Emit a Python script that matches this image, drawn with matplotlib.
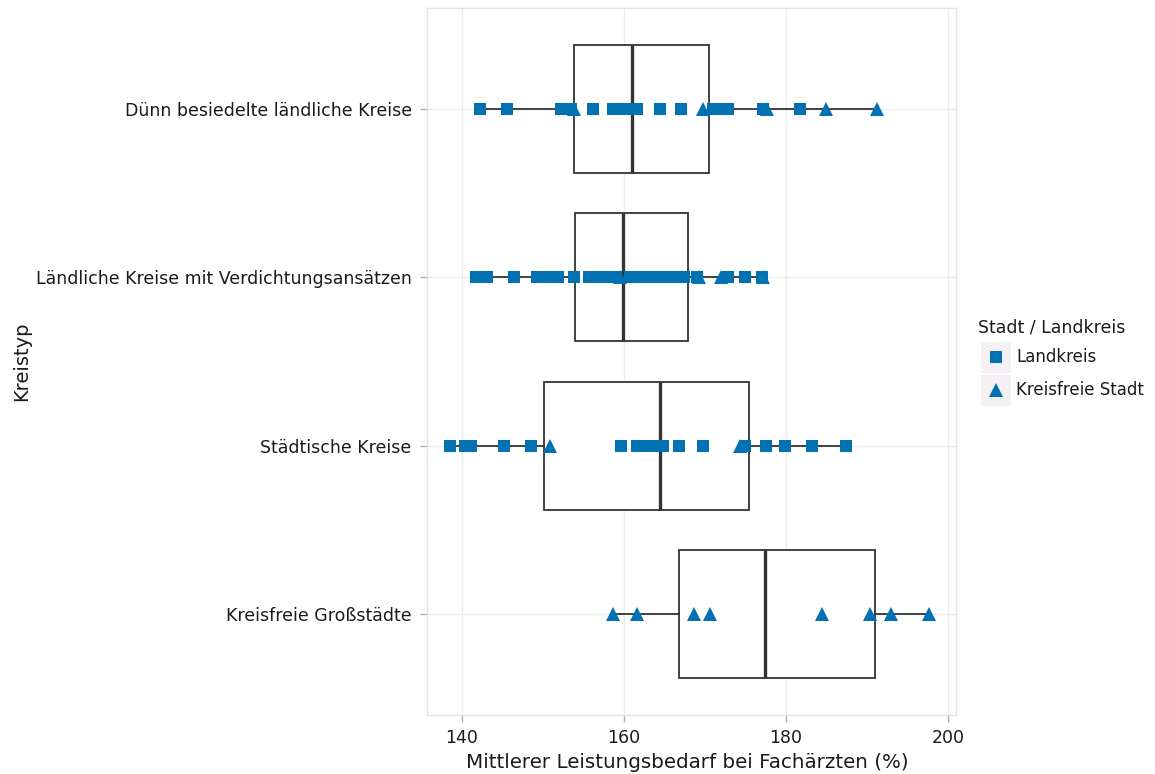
import numpy as np
import matplotlib
matplotlib.use('Agg')
import matplotlib.pyplot as plt
from matplotlib.patches import Rectangle
from matplotlib.lines import Line2D

plt.rcParams['font.family'] = ['DejaVu Sans']

# Kreistypen, von unten nach oben
kreistypen = ['Kreisfreie Großstädte', 'Städtische Kreise',
              'Ländliche Kreise mit Verdichtungsansätzen',
              'Dünn besiedelte ländliche Kreise']

# Leistungsbedarf (%) je Kreis, getrennt nach Landkreis / kreisfreie Stadt
landkreis = {
    'Dünn besiedelte ländliche Kreise': [142.2, 145.6, 152.2, 152.9, 153.5, 156.2, 158.6, 159.9,
                                         160.7, 161.6, 164.4, 167.0, 171.0, 172.0, 172.9, 177.2, 181.7],
    'Ländliche Kreise mit Verdichtungsansätzen': [141.7, 143.1, 146.5, 149.3, 150.6, 151.9, 153.8,
                                                  155.7, 157.0, 158.3, 159.0, 160.7, 162.0, 163.5,
                                                  164.7, 166.0, 167.4, 169.0, 172.8, 174.9, 177.0],
    'Städtische Kreise': [138.5, 140.4, 141.1, 145.2, 148.5, 159.6, 161.6, 162.4, 163.2, 164.0,
                          164.8, 166.8, 169.8, 174.9, 177.6, 179.9, 183.2, 187.4],
    'Kreisfreie Großstädte': [],
}
kreisfrei = {
    'Dünn besiedelte ländliche Kreise': [153.8, 169.8, 177.7, 185.0, 191.2],
    'Ländliche Kreise mit Verdichtungsansätzen': [159.5, 169.3, 172.0, 177.2],
    'Städtische Kreise': [150.9, 174.3],
    'Kreisfreie Großstädte': [158.6, 161.6, 168.6, 170.6, 184.4, 190.4, 193.0, 197.7],
}

# Boxplot-Kennwerte je Kreistyp (gleiche Reihenfolge wie kreistypen)
q1 = [166.8, 150.2, 154.0, 153.8]
median = [177.4, 164.4, 159.9, 161.0]
q3 = [191.0, 175.4, 167.9, 170.5]
whislo = [158.6, 138.5, 141.7, 142.2]
whishi = [197.7, 187.4, 177.2, 191.2]

blau = '#0072B2'
dunkel = '#333333'

fig = plt.figure(figsize=(11.55, 7.74), dpi=100)
ax = fig.add_axes([427/1155, 1-715/774, (956-427)/1155, (715-8)/774])

stats = []
for i, k in enumerate(kreistypen):
    stats.append(dict(med=median[i], q1=q1[i], q3=q3[i],
                      whislo=whislo[i], whishi=whishi[i], fliers=[], label=k))
pos = np.arange(1, len(kreistypen) + 1)
ax.bxp(stats, positions=pos, widths=0.76, orientation='horizontal',
       showcaps=False, showfliers=False, patch_artist=True,
       boxprops=dict(facecolor='white', edgecolor=dunkel, linewidth=1.3),
       whiskerprops=dict(color=dunkel, linewidth=1.3),
       medianprops=dict(color=dunkel, linewidth=2.4),
       zorder=2)

for i, k in enumerate(kreistypen):
    xs = landkreis[k]
    ax.plot(xs, np.full(len(xs), pos[i]), 's', color=blau, ms=8.5, mew=0, zorder=3)
    xs = kreisfrei[k]
    ax.plot(xs, np.full(len(xs), pos[i]), '^', color=blau, ms=9.5, mew=0, zorder=3)

ax.set_xlim(135.7, 201.0)
ax.set_ylim(0.4, 4.6)
ax.set_xticks([140, 160, 180, 200])
ax.set_yticks(pos)
ax.set_yticklabels(kreistypen)
ax.grid(True, color='#EBEBEB', linewidth=1.0, zorder=0)
ax.set_axisbelow(True)
for s in ax.spines.values():
    s.set_color('#E3E3E3')
    s.set_linewidth(1.0)
ax.tick_params(axis='both', colors='#B0B0B0', length=5, width=1.0,
               labelcolor='#1A1A1A', labelsize=12.5)
ax.tick_params(axis='x', pad=5)
ax.tick_params(axis='y', pad=6)
ax.set_xlabel('Mittlerer Leistungsbedarf bei Fachärzten (%)', fontsize=14.3,
              color='#1A1A1A')
ax.xaxis.set_label_coords(0.492, -0.054)
ax.set_ylabel('Kreistyp', fontsize=14, color='#1A1A1A')
ax.yaxis.set_label_coords(-0.748, 0.5)

# Legende
fig.text(978/1155, 1-328/774, 'Stadt / Landkreis', fontsize=12.5, va='center', ha='left',
         color='#1A1A1A')
for j, (mk, ms, lab) in enumerate([('s', 8.5, 'Landkreis'), ('^', 9.5, 'Kreisfreie Stadt')]):
    yc = 357 + j * 33
    fig.add_artist(Rectangle((981/1155, 1-(yc+16)/774), 30/1155, 31/774,
                             transform=fig.transFigure, facecolor='#F4F0F4', edgecolor='none'))
    fig.add_artist(Line2D([996/1155], [1-yc/774], marker=mk, markersize=ms, color=blau,
                          mew=0, linestyle='none', transform=fig.transFigure))
    fig.text(1016/1155, 1-yc/774, lab, fontsize=12, va='center', ha='left', color='#1A1A1A')

fig.savefig('out.png', dpi=100)
